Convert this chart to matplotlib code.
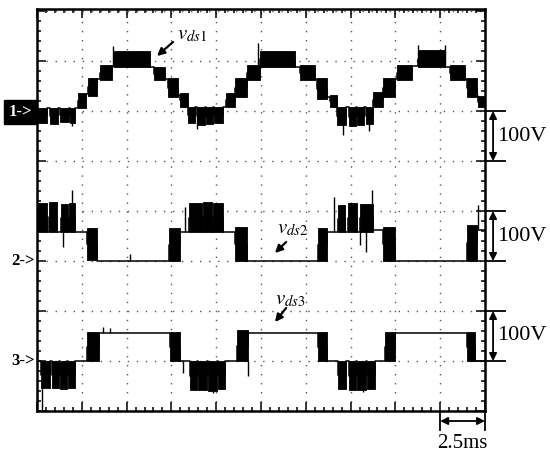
# Oscilloscope capture: drain-source voltages vds1, vds2, vds3
import matplotlib
matplotlib.use('Agg')
import matplotlib.pyplot as plt
from matplotlib.ticker import MultipleLocator

plt.rcParams['font.family'] = ['Liberation Serif', 'DejaVu Serif']
plt.rcParams['mathtext.fontset'] = 'stix'

# --- scope settings ---
ms_per_div = 2.5
volt_per_div = 100
ch_offsets = [2, -1, -3]          # ground marker of each channel (divisions)
scale_bar_top = [2, 0, -2]        # upper end of each 100V bracket (divisions)

# --- channel 1 (vds1): segment edges (ms), band low/high (V) ---
ch1_t = [0.00, 0.56, 0.73, 1.17, 1.28, 1.79, 1.84, 2.12, 2.29, 2.73,
         2.85, 3.35, 3.52, 4.19, 4.30, 6.31, 6.53, 7.14, 7.31, 7.87,
         7.98, 8.43, 8.82, 8.93, 9.37, 9.43, 9.82, 9.88, 10.38, 10.55,
         11.05, 11.72, 12.44, 14.40, 14.68, 15.51, 15.62, 16.18, 16.35, 16.74,
         17.24, 17.41, 17.80, 17.86, 18.25, 18.36, 18.75, 19.31, 19.98, 20.09,
         20.93, 21.26, 22.77, 23.05, 23.88, 23.99, 24.55, 24.61, 25.00]
ch1_lo = [-24, 6, -26, 6, -22, 6, -24, 6, 6, 34,
          30, 64, 62, 90, 88, 88, 62, 64, 28, 32,
          8, -24, 8, -28, 8, -26, 8, -24, 8, 8,
          28, 62, 88, 88, 62, 64, 24, 28, 8, -28,
          8, -30, 8, -28, 8, -26, 8, 28, 64, 62,
          90, 88, 88, 62, 64, 28, 30, 8]
ch1_hi = [6, 6, 6, 6, 6, 6, 6, 6, 36, 34,
          66, 64, 92, 90, 120, 88, 88, 64, 66, 32,
          36, 8, 8, 8, 8, 8, 8, 8, 8, 36,
          66, 92, 120, 88, 92, 64, 66, 28, 32, 8,
          8, 8, 8, 8, 8, 8, 38, 66, 64, 92,
          90, 122, 88, 92, 64, 66, 30, 30]

# --- channel 2 (vds2) ---
ch2_t = [0.00, 0.56, 0.67, 1.12, 1.34, 1.73, 1.79, 2.12, 2.79, 3.35,
         7.37, 7.98, 8.48, 9.21, 9.26, 9.77, 9.82, 10.38, 11.05, 11.72,
         15.68, 16.18, 16.80, 17.19, 17.35, 17.86, 18.03, 18.75, 19.31, 19.98,
         23.99, 24.55, 25.00]
ch2_lo = [58, 58, 58, 58, 58, 58, 58, 58, 2, 0,
          0, 58, 58, 58, 58, 58, 58, 58, 0, 0,
          0, 58, 58, 58, 58, 58, 58, 62, 0, 0,
          0, 62]
ch2_hi = [116, 58, 118, 58, 114, 58, 116, 58, 66, 0,
          66, 58, 116, 58, 118, 58, 116, 58, 68, 0,
          66, 58, 112, 58, 116, 58, 114, 62, 68, 0,
          72, 62]

# --- channel 3 (vds3) ---
ch3_t = [0.00, 0.22, 0.73, 0.84, 1.23, 1.28, 1.67, 1.73, 2.12, 2.79,
         3.46, 7.42, 7.98, 8.54, 8.93, 8.98, 9.49, 9.54, 10.04, 10.10,
         10.49, 11.16, 11.77, 15.68, 16.18, 16.80, 17.24, 17.41, 17.80, 17.86,
         18.36, 18.42, 18.86, 19.42, 19.98, 23.99, 24.44, 25.00]
ch3_lo = [0, -54, 0, -54, 0, -56, 0, -54, 0, 0,
          56, 0, 0, -58, 0, -58, 0, -60, 0, -56,
          0, 0, 56, 0, 0, -56, 0, -58, 0, -58,
          0, -56, 0, 0, 56, 0, 0]
ch3_hi = [0, 0, 0, 0, 0, 0, 0, 0, 0, 58,
          56, 58, 0, 0, 0, 0, 0, 0, 0, 0,
          0, 62, 56, 58, 0, 0, 0, 0, 0, 0,
          0, 0, 0, 58, 56, 58, 0]

# --- switching spikes (ms, V from, V to) ---
ch1_spk_t = [1.95, 4.25, 8.93, 12.33, 17.08, 18.53, 21.26, 22.77]
ch1_spk_lo = [-30, 88, -36, 88, -48, -40, 90, 90]
ch1_spk_hi = [6, 130, 8, 136, 8, 8, 132, 132]
ch2_spk_t = [1.45, 1.95, 5.19, 8.26, 16.57, 18.03, 18.36, 18.69, 24.61]
ch2_spk_lo = [28, 58, 0, 58, 58, 32, 18, 58, 62]
ch2_spk_hi = [60, 142, 14, 108, 128, 60, 60, 142, 112]
ch3_spk_t = [0.28, 3.68, 4.08, 8.15, 9.82, 11.77, 18.19]
ch3_spk_lo = [-98, 56, 56, -24, -64, -30, -62]
ch3_spk_hi = [-50, 68, 66, 0, -56, 0, -54]

channels = [
    (ch1_t, ch1_lo, ch1_hi, ch1_spk_t, ch1_spk_lo, ch1_spk_hi),
    (ch2_t, ch2_lo, ch2_hi, ch2_spk_t, ch2_spk_lo, ch2_spk_hi),
    (ch3_t, ch3_lo, ch3_hi, ch3_spk_t, ch3_spk_lo, ch3_spk_hi),
]

fig = plt.figure(figsize=(5.5, 4.58), dpi=100)
ax = fig.add_axes([37 / 550, 47 / 458, 448 / 550, 402.5 / 458])
ax.set_xlim(0, 10 * ms_per_div)
ax.set_ylim(-4, 4.05)

# --- traces ---
for (t, lo, hi, st, slo, shi), off in zip(channels, ch_offsets):
    xs, ys = [], []
    for i in range(len(lo)):
        y0 = off + lo[i] / volt_per_div
        y1 = off + hi[i] / volt_per_div
        mid = (y0 + y1) / 2
        xs += [t[i], t[i + 1]]
        ys += [mid, mid]
        if hi[i] > lo[i]:
            ax.fill_between([t[i], t[i + 1]], y0, y1, color='black', lw=0.6)
    ax.plot(xs, ys, color='black', lw=1.1)
    ax.vlines(st, [off + v / volt_per_div for v in slo],
              [off + v / volt_per_div for v in shi], color='black', lw=1.0)

# --- graticule ---
ax.xaxis.set_major_locator(MultipleLocator(ms_per_div))
ax.xaxis.set_minor_locator(MultipleLocator(ms_per_div / 5))
ax.yaxis.set_major_locator(MultipleLocator(1))
ax.yaxis.set_minor_locator(MultipleLocator(0.2))
ax.tick_params(which='both', direction='in', top=True, right=True,
               labelbottom=False, labelleft=False, width=1.1, color='black')
ax.tick_params(which='major', length=6.5)
ax.tick_params(which='minor', length=3.2)
ax.grid(which='major', color='#555555', linestyle=(0, (1, 5.5)), linewidth=1.0)
ax.set_axisbelow(True)
for sp in ax.spines.values():
    sp.set_linewidth(1.8)

# --- trace labels ---
lab_kw = dict(fontsize=15, ha='left', va='baseline')
ax.text(7.81, 3.44, r'$v_{ds1}$', **lab_kw)
ax.text(13.39, -0.44, r'$v_{ds2}$', **lab_kw)
ax.text(13.28, -1.86, r'$v_{ds3}$', **lab_kw)
arr_kw = dict(arrowstyle='-|>', color='black', lw=1.6, mutation_scale=11,
              shrinkA=0, shrinkB=0)
ax.annotate('', xy=(6.70, 3.10), xytext=(7.59, 3.38), arrowprops=arr_kw)
ax.annotate('', xy=(13.28, -0.84), xytext=(13.90, -0.62), arrowprops=arr_kw)
ax.annotate('', xy=(13.28, -2.22), xytext=(13.90, -1.94), arrowprops=arr_kw)

# --- channel ground markers ---
fig.text(20 / 550, 1 - 112 / 458, '1->', color='white', fontsize=12,
         fontweight='bold', ha='center', va='center',
         bbox=dict(boxstyle='square,pad=0.25', fc='black', ec='black'))
for lab, off in zip(['2->', '3->'], ch_offsets[1:]):
    ax.text(-0.1, off, lab, fontsize=12, fontweight='bold',
            ha='right', va='center', clip_on=False)

# --- scale markers on the right: 100 V per division ---
dbl_kw = dict(arrowstyle='<|-|>', color='black', lw=1.3, mutation_scale=11,
              shrinkA=0, shrinkB=0)
for top in scale_bar_top:
    for yy in (top, top - 1):
        ax.plot([25, 26.12], [yy, yy], color='black', lw=1.3, clip_on=False)
    ax.annotate('', xy=(25.45, top), xytext=(25.45, top - 1),
                arrowprops=dbl_kw, annotation_clip=False)
    ax.text(25.65, top - 0.5, '%dV' % volt_per_div, fontsize=16,
            ha='left', va='center', clip_on=False)

# --- time scale marker: 2.5 ms per division ---
for xx in (22.5, 25):
    ax.plot([xx, xx], [-4, -4.38], color='black', lw=1.3, clip_on=False)
ax.annotate('', xy=(22.5, -4.2), xytext=(25, -4.2),
            arrowprops=dbl_kw, annotation_clip=False)
ax.text(23.75, -4.64, '%.1fms' % ms_per_div, fontsize=15,
        ha='center', va='center', clip_on=False)

fig.savefig('out.png', dpi=100)
